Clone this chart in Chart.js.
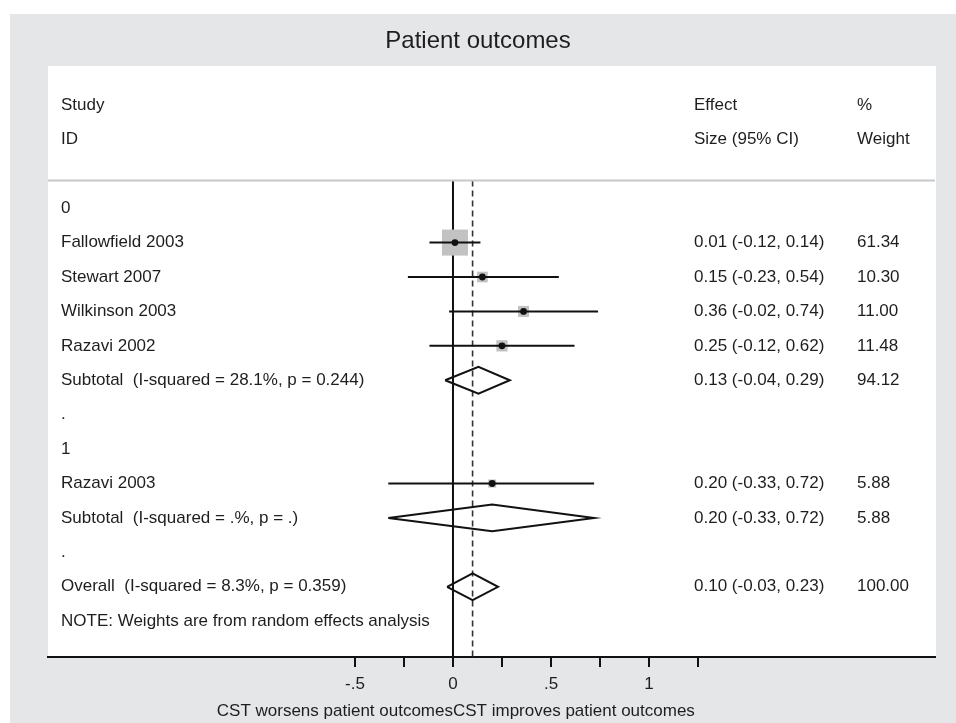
<!DOCTYPE html>
<html>
<head>
<meta charset="utf-8">
<title>Patient outcomes</title>
<script src="https://cdn.jsdelivr.net/npm/chart.js@4.4.1/dist/chart.umd.min.js"></script>
<style>
  html, body { margin: 0; padding: 0; background: #fff; }
</style>
</head>
<body>
<canvas id="forestChart" width="956" height="723"></canvas>
<script>
// Forest plot - Patient outcomes

// Individual studies (row = line in the table, counted downward)
const studyNames = ['Fallowfield 2003', 'Stewart 2007', 'Wilkinson 2003', 'Razavi 2002', 'Razavi 2003'];
const studyRows = [1, 2, 3, 4, 8];
const studyEst = [0.01, 0.15, 0.36, 0.25, 0.20];
const studyLow = [-0.12, -0.23, -0.02, -0.12, -0.33];
const studyHigh = [0.14, 0.54, 0.74, 0.62, 0.72];
const studyWeight = [61.34, 10.30, 11.00, 11.48, 5.88];

// Pooled estimates (subtotals + overall)
const pooledNames = [
    'Subtotal  (I-squared = 28.1%, p = 0.244)',
    'Subtotal  (I-squared = .%, p = .)',
    'Overall  (I-squared = 8.3%, p = 0.359)'
];
const pooledRows = [5, 9, 11];
const pooledEst = [0.13, 0.20, 0.10];
const pooledLow = [-0.04, -0.33, -0.03];
const pooledHigh = [0.29, 0.72, 0.23];
const pooledWeight = [94.12, 5.88, 100.00];

// Plain text rows
const otherLabels = ['0', '.', '1', '.', 'NOTE: Weights are from random effects analysis'];
const otherRows = [0, 6, 7, 10, 12];

// x axis ticks
const tickValues = [-0.5, -0.25, 0, 0.25, 0.5, 0.75, 1, 1.25];
const tickLabels = ['-.5', '', '0', '', '.5', '', '1', ''];

const FONT = "'Liberation Sans', Arial, sans-serif";
const TEXT = '#1e1e1e';
const INK = '#111';
const headerRule = -0.8;
const yMin = -4.13, yMax = 13.04;
const diamondHalf = 0.39;   // half height of the pooled diamonds, in rows
const boxScale = 2.35;      // square radius per sqrt(weight)

const fmt = (v) => v.toFixed(2);

// note: higher "order" is drawn first (underneath)
const datasets = [];

// null line and overall effect line
datasets.push({
    data: [{ x: 0, y: headerRule }, { x: 0, y: yMax }],
    showLine: true, borderColor: INK, borderWidth: 2, pointRadius: 0, order: 4
});
datasets.push({
    data: [{ x: pooledEst[2], y: headerRule }, { x: pooledEst[2], y: yMax }],
    showLine: true, borderColor: '#333', borderWidth: 1.6, borderDash: [6, 4], pointRadius: 0, order: 4
});

// weight boxes
datasets.push({
    data: studyEst.map((e, i) => ({ x: e, y: studyRows[i] })),
    pointStyle: 'rect',
    pointRadius: studyWeight.map(w => boxScale * Math.sqrt(w)),
    backgroundColor: '#c2c2c2', borderWidth: 0, order: 3
});

// confidence intervals
studyEst.forEach((e, i) => {
    datasets.push({
        data: [{ x: studyLow[i], y: studyRows[i] }, { x: studyHigh[i], y: studyRows[i] }],
        showLine: true, borderColor: INK, borderWidth: 2, pointRadius: 0, order: 2
    });
});

// point estimates
datasets.push({
    data: studyEst.map((e, i) => ({ x: e, y: studyRows[i] })),
    pointStyle: 'circle', pointRadius: 3.4,
    backgroundColor: INK, borderColor: INK, borderWidth: 0, order: 1
});

// pooled diamonds
pooledEst.forEach((e, i) => {
    const r = pooledRows[i];
    datasets.push({
        data: [
            { x: pooledLow[i], y: r },
            { x: e, y: r - diamondHalf },
            { x: pooledHigh[i], y: r },
            { x: e, y: r + diamondHalf },
            { x: pooledLow[i], y: r }
        ],
        showLine: true, borderColor: INK, borderWidth: 2, pointRadius: 0, tension: 0, order: 2
    });
});

// background, title, table text
const forestText = {
    id: 'forestText',
    beforeDraw(chart) {
        const c = chart.ctx;
        const a = chart.chartArea;
        c.save();
        c.fillStyle = '#fff';
        c.fillRect(0, 0, chart.width, chart.height);
        c.fillStyle = '#e5e6e8';
        c.fillRect(10, 14, chart.width - 10, chart.height - 14);
        c.fillStyle = '#fff';
        c.fillRect(a.left, a.top, a.right - a.left + 1, a.bottom - a.top);
        c.restore();
    },
    afterDatasetsDraw(chart) {
        const c = chart.ctx;
        const a = chart.chartArea;
        const ys = chart.scales.y;
        const xs = chart.scales.x;
        const labelX = a.left + 13;
        const effectX = 694;
        const weightX = 857;

        c.save();
        // header rule
        const ruleY = ys.getPixelForValue(headerRule);
        c.strokeStyle = '#c8c8c8';
        c.lineWidth = 2;
        c.beginPath();
        c.moveTo(a.left, ruleY);
        c.lineTo(a.right, ruleY);
        c.stroke();

        c.fillStyle = TEXT;
        c.textBaseline = 'middle';
        c.textAlign = 'center';
        c.font = '24px ' + FONT;
        c.fillText('Patient outcomes', 478, 41);

        c.textAlign = 'left';
        c.font = '17px ' + FONT;
        const put = (txt, x, row) => c.fillText(txt, x, ys.getPixelForValue(row));

        put('Study', labelX, -3);
        put('ID', labelX, -2);
        put('Effect', effectX, -3);
        put('Size (95% CI)', effectX, -2);
        put('%', weightX, -3);
        put('Weight', weightX, -2);

        otherLabels.forEach((t, i) => put(t, labelX, otherRows[i]));
        studyNames.forEach((n, i) => {
            put(n, labelX, studyRows[i]);
            put(fmt(studyEst[i]) + ' (' + fmt(studyLow[i]) + ', ' + fmt(studyHigh[i]) + ')', effectX, studyRows[i]);
            put(fmt(studyWeight[i]), weightX, studyRows[i]);
        });
        pooledNames.forEach((n, i) => {
            put(n, labelX, pooledRows[i]);
            put(fmt(pooledEst[i]) + ' (' + fmt(pooledLow[i]) + ', ' + fmt(pooledHigh[i]) + ')', effectX, pooledRows[i]);
            put(fmt(pooledWeight[i]), weightX, pooledRows[i]);
        });

        // axis caption either side of the null line
        const x0 = xs.getPixelForValue(0);
        c.textAlign = 'right';
        c.fillText('CST worsens patient outcomes', x0, 711);
        c.textAlign = 'left';
        c.fillText('CST improves patient outcomes', x0, 711);
        c.restore();
    }
};

const chart = new Chart(document.getElementById('forestChart'), {
    type: 'scatter',
    data: { datasets: datasets },
    options: {
        responsive: false,
        animation: false,
        layout: { padding: { left: 48, right: 21, top: 66, bottom: 26 } },
        scales: {
            x: {
                type: 'linear',
                min: -2.066,
                max: 2.459,
                afterBuildTicks: (scale) => {
                    scale.ticks = tickValues.map(v => ({ value: v }));
                },
                afterFit: (scale) => { scale.height = 40; },
                ticks: {
                    autoSkip: false,
                    maxRotation: 0,
                    padding: 7,
                    color: TEXT,
                    font: { family: FONT, size: 17 },
                    callback: (v) => {
                        const i = tickValues.indexOf(v);
                        return i >= 0 ? tickLabels[i] : '';
                    }
                },
                grid: {
                    drawOnChartArea: false,
                    drawTicks: true,
                    tickLength: 10,
                    color: INK,
                    lineWidth: 2
                },
                border: { display: true, color: INK, width: 2 }
            },
            y: {
                type: 'linear',
                display: false,
                reverse: true,
                min: yMin,
                max: yMax
            }
        },
        plugins: {
            legend: { display: false },
            tooltip: { enabled: false },
            title: { display: false }
        }
    },
    plugins: [forestText]
});
</script>
</body>
</html>
